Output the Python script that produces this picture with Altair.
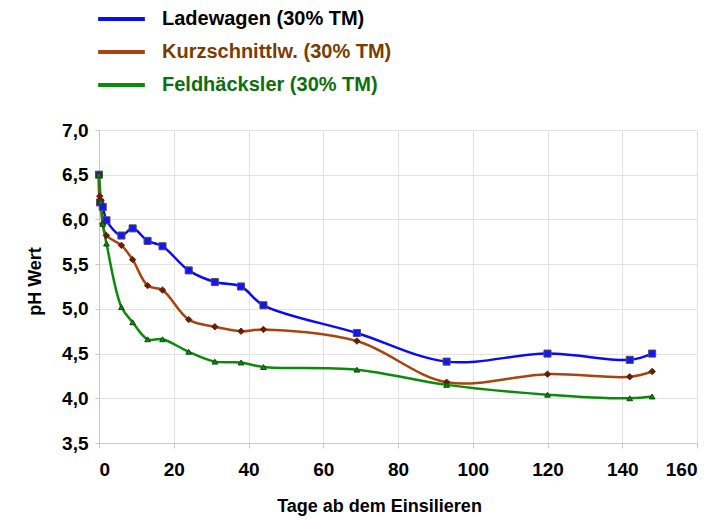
import altair as alt
import pandas as pd

series_names = ["Ladewagen (30% TM)", "Kurzschnittlw. (30% TM)", "Feldhäcksler (30% TM)"]

lw_days = [0, 0.3, 1, 2, 6, 9, 13, 17, 24, 31, 38, 44, 69, 93, 120, 142, 148]
lw_ph = [6.50, 6.19, 6.14, 5.99, 5.82, 5.90, 5.76, 5.70, 5.43, 5.30, 5.25, 5.04, 4.73, 4.41, 4.50, 4.43, 4.50]

ks_days = [0, 0.2, 0.5, 1, 2, 6, 9, 13, 17, 24, 31, 38, 44, 69, 93, 120, 142, 148]
ks_ph = [6.50, 6.26, 6.21, 5.95, 5.82, 5.71, 5.55, 5.26, 5.21, 4.88, 4.80, 4.75, 4.77, 4.64, 4.18, 4.27, 4.24, 4.30]

fh_days = [0, 0.5, 1, 2, 6, 9, 13, 17, 24, 31, 38, 44, 69, 93, 120, 142, 148]
fh_ph = [6.50, 6.20, 5.95, 5.73, 5.02, 4.85, 4.66, 4.66, 4.52, 4.41, 4.40, 4.35, 4.32, 4.15, 4.04, 4.00, 4.02]

x_ticks = [0, 20, 40, 60, 80, 100, 120, 140, 160]
y_ticks = [3.5, 4.0, 4.5, 5.0, 5.5, 6.0, 6.5, 7.0]

line_colors = ["#0a0af5", "#a8450e", "#0b8a0b"]
fill_colors = ["#1414ff", "#7a1400", "#0b8a0b"]
edge_colors = ["#505050", "#4a2a10", "#0a4a0a"]
marker_shapes = ["square", "diamond", "triangle-up"]
marker_sizes = [50, 32, 48]
label_colors = ["#000000", "#7a3c00", "#0e6e0e"]

rows = []
for name, days, ph in [(series_names[0], lw_days, lw_ph),
                       (series_names[1], ks_days, ks_ph),
                       (series_names[2], fh_days, fh_ph)]:
    for d, p in zip(days, ph):
        rows.append({"Serie": name, "Marker": name, "Tage": d, "pH": p})
df = pd.DataFrame(rows)

FONT = "Liberation Sans"


def pick(colors):
    return (
        f"datum.label == '{series_names[0]}' ? '{colors[0]}' : "
        f"(datum.label == '{series_names[1]}' ? '{colors[1]}' : '{colors[2]}')"
    )


x_enc = alt.X(
    "Tage:Q",
    scale=alt.Scale(domain=[0, 160], nice=False, zero=False),
    axis=alt.Axis(values=x_ticks, title="Tage ab dem Einsilieren", format="d",
                  labelFontSize=19, titleFontSize=18, labelPadding=12, titlePadding=18,
                  tickSize=5, titleX=280, titleAlign="center"),
)
y_enc = alt.Y(
    "pH:Q",
    scale=alt.Scale(domain=[3.5, 7.0], nice=False, zero=False),
    axis=alt.Axis(values=y_ticks, title="pH Wert",
                  labelExpr="replace(format(datum.value, '.1f'), '.', ',')",
                  labelFontSize=19, titleFontSize=18, labelPadding=7, titlePadding=17,
                  tickSize=4, titleY=151, titleAlign="center"),
)

lines = alt.Chart(df).mark_line(interpolate="catmull-rom", strokeWidth=2.5).encode(
    x=x_enc,
    y=y_enc,
    color=alt.Color(
        "Serie:N",
        sort=series_names,
        scale=alt.Scale(domain=series_names, range=line_colors),
        legend=alt.Legend(
            orient="none", legendX=-3, legendY=-121, direction="vertical", title=None,
            symbolType="stroke", symbolSize=2180, symbolStrokeWidth=4, clipHeight=20,
            labelFont=FONT, labelFontSize=20, labelFontWeight="bold", labelOffset=15,
            rowPadding=13, padding=0, labelLimit=400,
            labelColor=alt.ExprRef(pick(label_colors)),
        ),
    ),
)

points = alt.Chart(df).mark_point(filled=True, opacity=1, strokeWidth=1).encode(
    x=x_enc,
    y=y_enc,
    shape=alt.Shape("Marker:N", scale=alt.Scale(domain=series_names, range=marker_shapes), legend=None),
    fill=alt.Fill("Marker:N", scale=alt.Scale(domain=series_names, range=fill_colors), legend=None),
    stroke=alt.Stroke("Marker:N", scale=alt.Scale(domain=series_names, range=edge_colors), legend=None),
    size=alt.Size("Marker:N", scale=alt.Scale(domain=series_names, range=marker_sizes), legend=None),
)

chart = alt.layer(lines, points).properties(
    width=598,
    height=313,
    autosize=alt.AutoSizeParams(type="none"),
    padding={"left": 91, "top": 122, "right": 22, "bottom": 76},
).resolve_legend(
    color="independent", shape="independent", fill="independent",
    stroke="independent", size="independent",
).configure(
    font=FONT,
).configure_axis(
    labelFont=FONT, titleFont=FONT, labelFontWeight="bold", titleFontWeight="bold",
    labelColor="#000000", titleColor="#000000",
    gridColor="#e2e2e2", domainColor="#c8c8c8", tickColor="#c8c8c8",
).configure_view(
    stroke="#d0d0d0",
)

chart.save("out.html", embed_options={"renderer": "svg", "actions": False})
